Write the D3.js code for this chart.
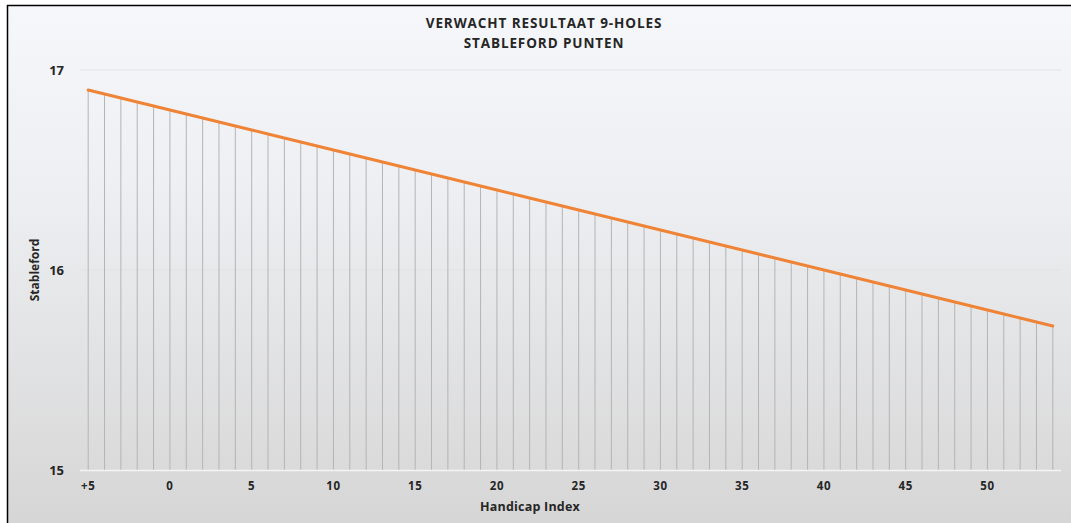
<!DOCTYPE html>
<html><head><meta charset="utf-8">
<script src="https://cdn.jsdelivr.net/npm/d3@7"></script>
<style>
html,body{margin:0;padding:0;background:#fff;}
svg{display:block;}
text{font-family:"Open Sans","Noto Sans",sans-serif;font-weight:bold;fill:#262626;}
</style></head><body>
<svg id="c" width="1071" height="523"></svg>
<script>
const handicaps = [-5,-4,-3,-2,-1,0,1,2,3,4,5,6,7,8,9,10,11,12,13,14,15,16,17,18,19,20,21,22,23,24,25,26,27,28,29,30,31,32,33,34,35,36,37,38,39,40,41,42,43,44,45,46,47,48,49,50,51,52,53,54];
const stableford = [16.90,16.88,16.86,16.84,16.82,16.80,16.78,16.76,16.74,16.72,16.70,16.68,16.66,16.64,16.62,16.60,16.58,16.56,16.54,16.52,16.50,16.48,16.46,16.44,16.42,16.40,16.38,16.36,16.34,16.32,16.30,16.28,16.26,16.24,16.22,16.20,16.18,16.16,16.14,16.12,16.10,16.08,16.06,16.04,16.02,16.00,15.98,15.96,15.94,15.92,15.90,15.88,15.86,15.84,15.82,15.80,15.78,15.76,15.74,15.72];
const yTicks = [15,16,17];
const xTickValues = [-5,0,5,10,15,20,25,30,35,40,45,50];
const titleLines = ["VERWACHT RESULTAAT 9-HOLES","STABLEFORD PUNTEN"];
const xTitle = "Handicap Index";
const yTitle = "Stableford";

const svg = d3.select("#c");
const W = 1071, H = 523;
const L = 80, R = 1061, T = 70, B = 470;

const defs = svg.append("defs");
const g = defs.append("linearGradient").attr("id","bg").attr("x1",0).attr("y1",0).attr("x2",0).attr("y2",1);
g.append("stop").attr("offset","0%").attr("stop-color","#f6f7fb");
g.append("stop").attr("offset","35%").attr("stop-color","#eeeff2");
g.append("stop").attr("offset","100%").attr("stop-color","#d6d6d6");

svg.append("rect").attr("x",7).attr("y",5).attr("width",W-7).attr("height",H-5).attr("fill","url(#bg)");
svg.append("line").attr("x1",7).attr("x2",W).attr("y1",5.5).attr("y2",5.5).attr("stroke","#000").attr("stroke-width",1.5);
svg.append("line").attr("x1",7.5).attr("x2",7.5).attr("y1",5).attr("y2",H).attr("stroke","#000").attr("stroke-width",1.5);

const x = d3.scaleBand().domain(handicaps).range([L,R]);
const y = d3.scaleLinear().domain([15,17]).range([B,T]);
const cx = d => x(d) + x.bandwidth()/2;

// gridlines
svg.append("g").selectAll("line").data(yTicks.filter(v=>v!==15)).join("line")
  .attr("x1",L).attr("x2",R).attr("y1",d=>y(d)).attr("y2",d=>y(d))
  .attr("stroke","#e2e3e6").attr("stroke-width",1.2);

// drop lines
svg.append("g").selectAll("line").data(handicaps).join("line")
  .attr("x1",(d)=>cx(d)).attr("x2",(d)=>cx(d))
  .attr("y1",(d,i)=>y(stableford[i])).attr("y2",B)
  .attr("stroke","#b4b4b4").attr("stroke-width",1);

// baseline
svg.append("line").attr("x1",L).attr("x2",R).attr("y1",B+0.5).attr("y2",B+0.5).attr("stroke","#f4f4f4").attr("stroke-width",1.5);

// line
const line = d3.line().x((d,i)=>cx(handicaps[i])).y(d=>y(d));
svg.append("path").datum(stableford).attr("d",line).attr("fill","none")
  .attr("stroke","#ef8436").attr("stroke-width",3).attr("stroke-linecap","round");

// y axis
const yAxis = d3.axisLeft(y).tickValues(yTicks).tickFormat(d3.format("d")).tickSize(0).tickPadding(16);
const ya = svg.append("g").attr("transform",`translate(${L},0)`).call(yAxis);
ya.select(".domain").remove();
ya.selectAll("text").style("font-size","13px").attr("font-family",null).attr("fill","#262626");

// x axis
const xAxis = d3.axisBottom(x).tickValues(xTickValues).tickFormat(d=>d<0?"+"+(-d):String(d)).tickSize(0).tickPadding(12);
const xa = svg.append("g").attr("transform",`translate(0,${B})`).call(xAxis);
xa.select(".domain").remove();
xa.selectAll("text").style("font-size","11.5px").style("letter-spacing","0.6px").attr("font-family",null).attr("fill","#333");

// titles
svg.append("g").selectAll("text").data(titleLines).join("text")
  .attr("x",544).attr("y",(d,i)=>28+i*20).attr("text-anchor","middle")
  .style("font-size","13.5px").style("letter-spacing","0.9px").text(d=>d);
svg.append("text").attr("x",530).attr("y",511).attr("text-anchor","middle")
  .style("font-size","12.5px").style("letter-spacing","0.2px").text(xTitle);
svg.append("text").attr("transform",`translate(39,270) rotate(-90)`).attr("text-anchor","middle")
  .style("font-size","12px").text(yTitle);
</script>
</body></html>
